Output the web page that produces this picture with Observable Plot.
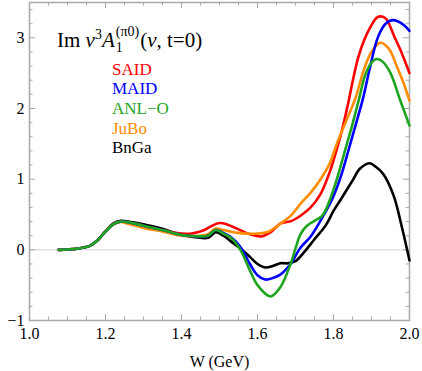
<!DOCTYPE html>
<html>
<head>
<meta charset="utf-8">
<script src="https://cdn.jsdelivr.net/npm/d3@7"></script>
<script src="https://cdn.jsdelivr.net/npm/@observablehq/plot@0.6"></script>
<style>
  html, body { margin: 0; padding: 0; background: #fff; }
  #chart { width: 422px; height: 371px; }
</style>
</head>
<body>
<div id="chart"></div>
<script>
// ---- data ----
const saidW = [1.077,1.10,1.13,1.16,1.18,1.20,1.22,1.24,1.26,1.30,1.35,1.40,1.43,1.46,1.48,1.50,1.52,1.55,1.58,1.61,1.635,1.66,1.69,1.715,1.74,1.765,1.79,1.81,1.825,1.84,1.853,1.865,1.88,1.90,1.915,1.93,1.94,1.96,1.98,2.0];
const saidV = [0,0.005,0.02,0.06,0.14,0.26,0.36,0.40,0.39,0.34,0.28,0.23,0.235,0.28,0.34,0.38,0.36,0.29,0.22,0.19,0.25,0.37,0.41,0.49,0.60,0.78,1.10,1.45,1.75,2.11,2.45,2.72,2.96,3.18,3.29,3.30,3.26,3.02,2.78,2.50];

const maidW = [1.077,1.10,1.13,1.16,1.18,1.20,1.22,1.24,1.26,1.30,1.35,1.40,1.45,1.47,1.49,1.51,1.53,1.555,1.58,1.60,1.62,1.64,1.66,1.687,1.713,1.74,1.774,1.80,1.82,1.84,1.86,1.878,1.896,1.917,1.937,1.957,1.98,2.0];
const maidV = [0,0.005,0.02,0.06,0.14,0.26,0.36,0.40,0.39,0.34,0.28,0.21,0.19,0.20,0.28,0.24,0.18,0.04,-0.20,-0.36,-0.42,-0.40,-0.35,-0.20,0.03,0.19,0.49,0.76,1.05,1.42,1.80,2.15,2.58,3.01,3.20,3.25,3.20,3.10];

const anlW = [1.077,1.10,1.13,1.16,1.18,1.20,1.22,1.24,1.26,1.30,1.35,1.40,1.45,1.47,1.49,1.51,1.53,1.555,1.58,1.60,1.634,1.66,1.687,1.70,1.713,1.73,1.75,1.77,1.79,1.81,1.83,1.85,1.866,1.884,1.90,1.915,1.93,1.95,1.976,2.0];
const anlV = [0,0.005,0.02,0.06,0.14,0.26,0.36,0.40,0.39,0.34,0.28,0.21,0.19,0.20,0.28,0.23,0.17,0.0,-0.29,-0.50,-0.66,-0.53,-0.20,0.02,0.22,0.34,0.41,0.48,0.70,1.02,1.40,1.78,2.11,2.48,2.65,2.70,2.66,2.50,2.11,1.76];

const juboW = [1.077,1.10,1.13,1.16,1.18,1.20,1.22,1.24,1.26,1.30,1.35,1.40,1.45,1.47,1.49,1.51,1.55,1.60,1.63,1.66,1.687,1.713,1.74,1.766,1.79,1.81,1.83,1.858,1.88,1.90,1.923,1.945,1.968,1.985,2.0];
const juboV = [0,0.005,0.02,0.06,0.14,0.26,0.36,0.395,0.37,0.31,0.26,0.20,0.20,0.22,0.30,0.28,0.24,0.23,0.26,0.37,0.48,0.65,0.81,1.0,1.22,1.52,1.78,2.15,2.55,2.80,2.93,2.85,2.58,2.35,2.11];

const bngaW = [1.077,1.10,1.13,1.16,1.18,1.20,1.22,1.24,1.26,1.30,1.35,1.40,1.45,1.47,1.49,1.51,1.53,1.555,1.58,1.60,1.62,1.64,1.66,1.68,1.70,1.72,1.75,1.78,1.80,1.82,1.85,1.87,1.896,1.91,1.93,1.958,1.98,2.0];
const bngaV = [0,0.005,0.02,0.06,0.14,0.26,0.37,0.41,0.40,0.36,0.30,0.21,0.17,0.17,0.25,0.20,0.12,0.02,-0.10,-0.20,-0.25,-0.23,-0.19,-0.19,-0.16,-0.05,0.15,0.35,0.55,0.72,0.98,1.15,1.225,1.18,1.08,0.77,0.32,-0.15];

const seriesNames  = ["BnGa", "SAID", "JuBo", "MAID", "ANL\u2212O"];
const seriesColors = ["#000000", "#ff0000", "#ff8c00", "#0000ff", "#1ea51e"];
const legendOrder  = ["SAID", "MAID", "ANL\u2212O", "JuBo", "BnGa"];

const xMajor = [1.0, 1.2, 1.4, 1.6, 1.8, 2.0];
const xMinor = [1.05,1.1,1.15,1.25,1.3,1.35,1.45,1.5,1.55,1.65,1.7,1.75,1.85,1.9,1.95];
const yMajor = [-1, 0, 1, 2, 3];
const yMinor = [-0.8,-0.6,-0.4,-0.2,0.2,0.4,0.6,0.8,1.2,1.4,1.6,1.8,2.2,2.4,2.6,2.8,3.2,3.4];

// ---- build rows ----
const allW = [bngaW, saidW, juboW, maidW, anlW];
const allV = [bngaV, saidV, juboV, maidV, anlV];
const rows = [];
seriesNames.forEach((name, i) => {
  allW[i].forEach((w, j) => rows.push({series: name, W: w, v: allV[i][j]}));
});

const W = 422, H = 371;
const mL = 29, mR = 13, mT = 2, mB = 51;
const pw = W - mL - mR, ph = H - mT - mB;
const tickColor = "#a8a8a8";
const serif = "'Liberation Serif', 'Times New Roman', serif";

const chart = Plot.plot({
  width: W, height: H,
  marginLeft: mL, marginRight: mR, marginTop: mT, marginBottom: mB,
  style: {fontFamily: serif, fontSize: "16px", color: "#000", background: "#fff"},
  x: {domain: [1, 2]},
  y: {domain: [-1, 3.5]},
  color: {domain: seriesNames, range: seriesColors},
  marks: [
    Plot.ruleY([0], {stroke: "#d0d0d0", strokeWidth: 1}),
    Plot.frame({stroke: tickColor, strokeWidth: 1.5}),
    // inward ticks on all four sides
    Plot.tickX(xMajor, {x: d => d, stroke: tickColor, insetTop: ph - 6}),
    Plot.tickX(xMinor, {x: d => d, stroke: tickColor, insetTop: ph - 3.5}),
    Plot.tickX(xMajor, {x: d => d, stroke: tickColor, insetBottom: ph - 6}),
    Plot.tickX(xMinor, {x: d => d, stroke: tickColor, insetBottom: ph - 3.5}),
    Plot.tickY(yMajor, {y: d => d, stroke: tickColor, insetRight: pw - 6}),
    Plot.tickY(yMinor, {y: d => d, stroke: tickColor, insetRight: pw - 3.5}),
    Plot.tickY(yMajor, {y: d => d, stroke: tickColor, insetLeft: pw - 6}),
    Plot.tickY(yMinor, {y: d => d, stroke: tickColor, insetLeft: pw - 3.5}),
    Plot.axisX(xMajor, {tickSize: 0, tickPadding: 7, tickFormat: d => d.toFixed(1), label: "W (GeV)", labelAnchor: "center", labelArrow: "none", labelOffset: 46, fontSize: 16, fontFamily: serif}),
    Plot.axisY(yMajor, {tickSize: 0, tickPadding: 5, tickFormat: d => (d < 0 ? "\u2212" : "") + Math.abs(d), label: null, fontSize: 16, fontFamily: serif}),
    Plot.line(rows, {x: "W", y: "v", z: "series", stroke: "series", strokeWidth: 2.6, curve: "catmull-rom"})
  ]
});
document.getElementById("chart").appendChild(chart);

// ---- title and legend (text inside the SVG) ----
const svg = d3.select(chart);
function addText(x, y, size) {
  return svg.append("text").attr("x", x).attr("y", y)
    .attr("text-anchor", "start").attr("fill", "#000")
    .style("font-family", serif).style("font-size", size + "px");
}
const t = addText(57, 47, 21);
t.append("tspan").text("Im ");
t.append("tspan").style("font-style", "italic").text("\u03bd");
t.append("tspan").style("font-size", "14px").attr("dy", -8).text("3");
t.append("tspan").style("font-style", "italic").attr("dy", 8).text("A");
const tEnd = 57 + t.node().getComputedTextLength();
addText(tEnd + 1, 52, 14).text("1");
const sup = addText(tEnd + 1, 36, 14).text("(\u03c00)");
const supEnd = tEnd + 1 + sup.node().getComputedTextLength();
const t2 = addText(supEnd + 1, 47, 21);
t2.append("tspan").text("(");
t2.append("tspan").style("font-style", "italic").text("\u03bd");
t2.append("tspan").text(", t=0)");

legendOrder.forEach((name, i) => {
  addText(112, 74.5 + i * 19.7, 17)
    .attr("fill", seriesColors[seriesNames.indexOf(name)])
    .text(name);
});
</script>
</body>
</html>
